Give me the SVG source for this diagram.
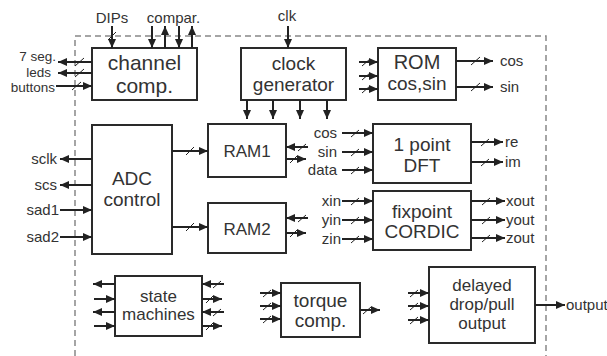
<svg xmlns="http://www.w3.org/2000/svg" width="607" height="356" viewBox="0 0 607 356">
<defs>
<marker id="ah" markerUnits="userSpaceOnUse" markerWidth="10" markerHeight="9" refX="9" refY="4" orient="auto">
<path d="M0,0 L9,4 L0,8 z" fill="#222"/>
</marker>
<style>
.box{fill:#fff;stroke:#2a2a2a;stroke-width:2}
.t{font-family:"Liberation Sans",Arial,sans-serif;fill:#333;text-anchor:middle}
.lbl{font-family:"Liberation Sans",Arial,sans-serif;fill:#333;font-size:15px}
.w{stroke:#222;stroke-width:2;fill:none;marker-end:url(#ah)}
.s{stroke:#222;stroke-width:1;fill:none}
.frame{stroke:#888;stroke-width:1.5;stroke-dasharray:6 4;fill:none}
</style>
</defs>
<rect width="607" height="356" fill="#fff"/>
<path class="frame" d="M75,356 L75,36 L546,36 L546,356"/>

<g id="channel-comp">
<rect class="box" x="92" y="48" width="105" height="52"/>
<text class="t" x="144.5" y="70" font-size="21">channel</text>
<text class="t" x="144.5" y="93" font-size="21">comp.</text>
</g>
<g id="clock-generator">
<rect class="box" x="241" y="48" width="105" height="52"/>
<text class="t" x="293.5" y="70" font-size="19">clock</text>
<text class="t" x="293.5" y="91" font-size="19">generator</text>
</g>
<g id="rom">
<rect class="box" x="378" y="48" width="78" height="52"/>
<text class="t" x="417" y="69" font-size="20">ROM</text>
<text class="t" x="417" y="90" font-size="19">cos,sin</text>
</g>
<g id="adc-control">
<rect class="box" x="92" y="125" width="80" height="129"/>
<text class="t" x="132" y="185" font-size="19">ADC</text>
<text class="t" x="132" y="206" font-size="19">control</text>
</g>
<g id="ram1">
<rect class="box" x="208" y="124" width="78" height="53"/>
<text class="t" x="247" y="157" font-size="17">RAM1</text>
</g>
<g id="ram2">
<rect class="box" x="208" y="203" width="78" height="50"/>
<text class="t" x="247" y="235" font-size="17">RAM2</text>
</g>
<g id="dft">
<rect class="box" x="373" y="124" width="98" height="59"/>
<text class="t" x="422" y="151" font-size="19">1 point</text>
<text class="t" x="422" y="172" font-size="19">DFT</text>
</g>
<g id="cordic">
<rect class="box" x="373" y="191" width="98" height="59"/>
<text class="t" x="422" y="218" font-size="19">fixpoint</text>
<text class="t" x="422" y="238" font-size="19">CORDIC</text>
</g>
<g id="state-machines">
<rect class="box" x="115" y="276" width="87" height="60"/>
<text class="t" x="158.5" y="302" font-size="17">state</text>
<text class="t" x="158.5" y="320" font-size="17">machines</text>
</g>
<g id="torque-comp">
<rect class="box" x="281" y="283" width="79" height="54"/>
<text class="t" x="320.5" y="307" font-size="19">torque</text>
<text class="t" x="320.5" y="327" font-size="19">comp.</text>
</g>
<g id="delayed-output">
<rect class="box" x="429" y="267" width="106" height="76"/>
<text class="t" x="482" y="291" font-size="17">delayed</text>
<text class="t" x="482" y="310" font-size="17">drop/pull</text>
<text class="t" x="482" y="329" font-size="17">output</text>
</g>

<g id="connectors">
<line class="w" x1="112" y1="26" x2="112" y2="48"/><line class="s" x1="108" y1="40" x2="116" y2="32"/>
<line class="w" x1="152" y1="26" x2="152" y2="48"/>
<line class="w" x1="165" y1="48" x2="165" y2="26"/>
<line class="w" x1="179" y1="26" x2="179" y2="48"/>
<line class="w" x1="192" y1="48" x2="192" y2="26"/>
<line class="w" x1="92" y1="62" x2="58" y2="62"/><line class="s" x1="75" y1="66" x2="84" y2="58"/>
<line class="w" x1="92" y1="73" x2="58" y2="73"/><line class="s" x1="75" y1="77" x2="84" y2="69"/>
<line class="w" x1="56" y1="86" x2="92" y2="86"/><line class="s" x1="72" y1="90" x2="81" y2="82"/>
<line class="w" x1="288" y1="26" x2="288" y2="48"/>
<line class="w" x1="247" y1="100" x2="247" y2="119"/>
<line class="w" x1="273" y1="100" x2="273" y2="119"/>
<line class="w" x1="300" y1="100" x2="300" y2="119"/>
<line class="w" x1="327" y1="100" x2="327" y2="119"/>
<line class="w" x1="359" y1="62" x2="378" y2="62"/><line class="s" x1="362" y1="66" x2="370" y2="59"/>
<line class="w" x1="359" y1="76" x2="378" y2="76"/><line class="s" x1="362" y1="80" x2="370" y2="73"/>
<line class="w" x1="359" y1="89" x2="378" y2="89"/><line class="s" x1="362" y1="93" x2="370" y2="86"/>
<line class="w" x1="456" y1="61" x2="493" y2="61"/><line class="s" x1="471" y1="65" x2="480" y2="57"/>
<line class="w" x1="456" y1="87" x2="493" y2="87"/><line class="s" x1="471" y1="91" x2="480" y2="83"/>
<line class="w" x1="92" y1="159" x2="60" y2="159"/>
<line class="w" x1="92" y1="185" x2="60" y2="185"/>
<line class="w" x1="60" y1="210" x2="92" y2="210"/>
<line class="w" x1="60" y1="237" x2="92" y2="237"/>
<line class="w" x1="172" y1="151" x2="208" y2="151"/><line class="s" x1="186" y1="155" x2="194" y2="147"/>
<line class="w" x1="172" y1="227" x2="208" y2="227"/><line class="s" x1="186" y1="231" x2="194" y2="223"/>
<line class="w" x1="308" y1="147" x2="286" y2="147"/><line class="s" x1="298" y1="151" x2="306" y2="144"/>
<line class="w" x1="286" y1="159" x2="306" y2="159"/><line class="s" x1="290" y1="163" x2="297" y2="156"/>
<line class="w" x1="308" y1="218" x2="286" y2="218"/><line class="s" x1="298" y1="222" x2="306" y2="215"/>
<line class="w" x1="286" y1="233" x2="306" y2="233"/><line class="s" x1="290" y1="237" x2="297" y2="230"/>
<line class="w" x1="342" y1="133" x2="373" y2="133"/><line class="s" x1="351" y1="137" x2="359" y2="130"/>
<line class="w" x1="342" y1="152" x2="373" y2="152"/><line class="s" x1="351" y1="156" x2="359" y2="149"/>
<line class="w" x1="342" y1="170" x2="373" y2="170"/><line class="s" x1="351" y1="174" x2="359" y2="167"/>
<line class="w" x1="471" y1="142" x2="503" y2="142"/><line class="s" x1="481" y1="146" x2="489" y2="139"/>
<line class="w" x1="471" y1="162" x2="503" y2="162"/><line class="s" x1="481" y1="166" x2="489" y2="159"/>
<line class="w" x1="342" y1="201" x2="373" y2="201"/><line class="s" x1="351" y1="205" x2="359" y2="198"/>
<line class="w" x1="342" y1="220" x2="373" y2="220"/><line class="s" x1="351" y1="224" x2="359" y2="217"/>
<line class="w" x1="342" y1="239" x2="373" y2="239"/><line class="s" x1="351" y1="243" x2="359" y2="236"/>
<line class="w" x1="471" y1="201" x2="505" y2="201"/><line class="s" x1="482" y1="205" x2="490" y2="198"/>
<line class="w" x1="471" y1="220" x2="505" y2="220"/><line class="s" x1="482" y1="224" x2="490" y2="217"/>
<line class="w" x1="471" y1="238" x2="505" y2="238"/><line class="s" x1="482" y1="242" x2="490" y2="235"/>
<line class="w" x1="115" y1="284" x2="93" y2="284"/>
<line class="w" x1="94" y1="299" x2="115" y2="299"/>
<line class="w" x1="115" y1="312" x2="93" y2="312"/>
<line class="w" x1="94" y1="326" x2="115" y2="326"/>
<line class="w" x1="224" y1="284" x2="202" y2="284"/><line class="s" x1="213" y1="288" x2="221" y2="281"/>
<line class="w" x1="202" y1="299" x2="222" y2="299"/><line class="s" x1="206" y1="303" x2="213" y2="296"/>
<line class="w" x1="224" y1="312" x2="202" y2="312"/><line class="s" x1="213" y1="316" x2="221" y2="309"/>
<line class="w" x1="202" y1="326" x2="222" y2="326"/><line class="s" x1="206" y1="330" x2="213" y2="323"/>
<line class="w" x1="260" y1="293" x2="281" y2="293"/><line class="s" x1="263" y1="297" x2="271" y2="290"/>
<line class="w" x1="260" y1="306" x2="281" y2="306"/><line class="s" x1="263" y1="310" x2="271" y2="303"/>
<line class="w" x1="260" y1="319" x2="281" y2="319"/><line class="s" x1="263" y1="323" x2="271" y2="316"/>
<line class="w" x1="360" y1="310" x2="380" y2="310"/><line class="s" x1="363" y1="314" x2="371" y2="307"/>
<line class="w" x1="408" y1="293" x2="429" y2="293"/><line class="s" x1="410" y1="297" x2="418" y2="290"/>
<line class="w" x1="408" y1="306" x2="429" y2="306"/><line class="s" x1="410" y1="310" x2="418" y2="303"/>
<line class="w" x1="408" y1="320" x2="429" y2="320"/><line class="s" x1="410" y1="324" x2="418" y2="317"/>
<line class="w" x1="535" y1="305" x2="565" y2="305"/>
</g>

<g id="signal-labels" class="lbl">
<text x="112" y="23" text-anchor="middle">DIPs</text>
<text x="173.5" y="23" text-anchor="middle">compar.</text>
<text x="287" y="21" text-anchor="middle">clk</text>
<text x="56" y="61" text-anchor="end" font-size="13.5">7 seg.</text>
<text x="51" y="77" text-anchor="end" font-size="13.5">leds</text>
<text x="55" y="92" text-anchor="end" font-size="13.5">buttons</text>
<text x="500" y="66">cos</text>
<text x="500" y="92">sin</text>
<text x="57" y="164" text-anchor="end">sclk</text>
<text x="57" y="190" text-anchor="end">scs</text>
<text x="59" y="215" text-anchor="end">sad1</text>
<text x="59" y="242" text-anchor="end">sad2</text>
<text x="337" y="138" text-anchor="end">cos</text>
<text x="337" y="157" text-anchor="end">sin</text>
<text x="337" y="175" text-anchor="end">data</text>
<text x="341" y="206" text-anchor="end">xin</text>
<text x="341" y="225" text-anchor="end">yin</text>
<text x="341" y="244" text-anchor="end">zin</text>
<text x="505" y="147">re</text>
<text x="505" y="167">im</text>
<text x="506" y="206">xout</text>
<text x="506" y="225">yout</text>
<text x="506" y="243">zout</text>
<text x="566" y="310">output</text>
</g>
</svg>
